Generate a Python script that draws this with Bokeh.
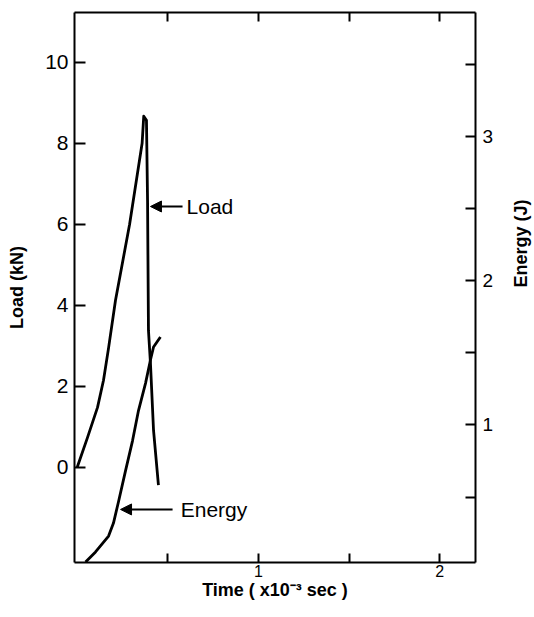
import math
from bokeh.plotting import figure
from bokeh.models import LinearAxis, Range1d, FixedTicker, Arrow, NormalHead, Label
from bokeh.embed import file_html
from bokeh.resources import INLINE

# Load curve (time in 1e-3 s, load in kN)
load_time = [0.0, 0.057, 0.112, 0.145, 0.173, 0.211, 0.289, 0.358, 0.367, 0.382, 0.388, 0.393, 0.404, 0.421, 0.448]
load_kn = [0.0, 0.74, 1.48, 2.15, 2.95, 4.12, 6.0, 8.0, 8.67, 8.57, 6.59, 3.38, 2.57, 0.91, -0.44]

# Energy curve (time in 1e-3 s, energy in J)
energy_time = [0.046, 0.101, 0.173, 0.200, 0.228, 0.266, 0.305, 0.338, 0.377, 0.404, 0.421, 0.459]
energy_j = [0.05, 0.12, 0.23, 0.32, 0.47, 0.68, 0.89, 1.10, 1.29, 1.45, 1.54, 1.61]

x_ticks = [0.5, 1, 1.5, 2]
x_tick_labels = {0.5: "", 1: "1", 1.5: "", 2: "2"}
load_ticks = [0, 2, 4, 6, 8, 10]
energy_ticks = [0.5, 1, 1.5, 2, 2.5, 3, 3.5]
energy_tick_labels = {0.5: "", 1: "1", 1.5: "", 2: "2", 2.5: "", 3: "3", 3.5: ""}

FONT = "Liberation Sans Narrow, Liberation Sans, sans-serif"

p = figure(frame_width=401, frame_height=550,
           x_range=Range1d(-0.015, 2.197), y_range=Range1d(-2.35, 11.23),
           output_backend="svg", toolbar_location=None, tools="",
           min_border_left=74, min_border_right=58, min_border_top=12, min_border_bottom=50,
           x_axis_location=None, y_axis_location=None)
p.grid.visible = False
p.outline_line_color = None
p.background_fill_color = "white"
p.border_fill_color = "white"
p.extra_y_ranges = {"energy": Range1d(0.047, 3.858)}

def style(ax, tick_len, lab_size):
    ax.axis_line_width = 2
    ax.axis_line_color = "black"
    ax.major_tick_in = tick_len
    ax.major_tick_out = 0
    ax.major_tick_line_width = 2
    ax.minor_tick_line_color = None
    ax.major_label_text_font = FONT
    ax.major_label_text_font_size = lab_size
    ax.major_label_text_color = "black"
    ax.axis_label_text_font = FONT
    ax.axis_label_text_font_style = "bold"
    ax.axis_label_text_font_size = "18px"
    ax.axis_label_text_color = "black"

xb = LinearAxis(ticker=FixedTicker(ticks=x_ticks), major_label_overrides=x_tick_labels,
                axis_label="Time ( x10\u207b\u00b3 sec )")
style(xb, 9, "16px")
xb.major_label_standoff = 2
xb.axis_label_standoff = 0
p.add_layout(xb, "below")

xt = LinearAxis(ticker=FixedTicker(ticks=x_ticks), major_label_overrides={t: "" for t in x_ticks})
style(xt, 9, "1px")
xt.major_label_standoff = 0
p.add_layout(xt, "above")

yl = LinearAxis(ticker=FixedTicker(ticks=load_ticks), axis_label="Load (kN)")
style(yl, 11, "21px")
yl.major_label_standoff = 6
yl.axis_label_standoff = 15
p.add_layout(yl, "left")

yr = LinearAxis(y_range_name="energy", ticker=FixedTicker(ticks=energy_ticks),
                major_label_overrides=energy_tick_labels, axis_label="Energy (J)")
style(yr, 10, "19px")
yr.major_label_standoff = 7
yr.axis_label_standoff = 25
try:
    yr.axis_label_orientation = math.pi / 2
except Exception:
    pass
p.add_layout(yr, "right")

p.line(load_time, load_kn, line_width=2.8, line_color="black", line_join="round")
p.line(energy_time, energy_j, y_range_name="energy", line_width=2.8, line_color="black", line_join="round")

head = dict(size=11, fill_color="black", line_color="black")
p.add_layout(Arrow(end=NormalHead(**head), x_start=0.581, y_start=6.44, x_end=0.404, y_end=6.44,
                   line_width=2, line_color="black"))
p.add_layout(Label(x=0.603, y=6.44, text="Load", text_font=FONT, text_font_size="21px",
                   text_baseline="middle", text_color="black"))
p.add_layout(Arrow(end=NormalHead(**head), x_start=0.526, y_start=-1.04, x_end=0.239, y_end=-1.04,
                   line_width=2, line_color="black"))
p.add_layout(Label(x=0.571, y=-1.04, text="Energy", text_font=FONT, text_font_size="21px",
                   text_baseline="middle", text_color="black"))

open("out.html", "w").write(file_html(p, INLINE))
